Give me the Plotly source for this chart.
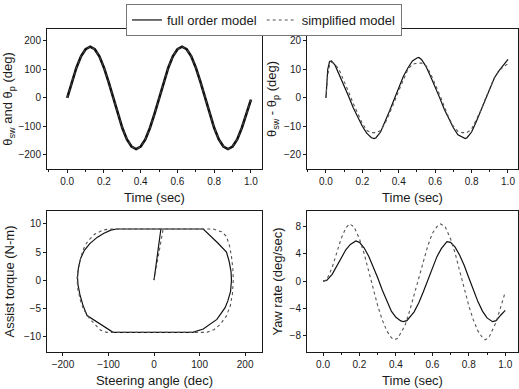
import plotly.graph_objects as go

# ---------------- data ----------------
t = [0.0, 0.025, 0.05, 0.075, 0.1, 0.125, 0.15, 0.175, 0.2, 0.225, 0.25,
     0.275, 0.3, 0.325, 0.35, 0.375, 0.4, 0.425, 0.45, 0.475, 0.5,
     0.525, 0.55, 0.575, 0.6, 0.625, 0.65, 0.675, 0.7, 0.725, 0.75,
     0.775, 0.8, 0.825, 0.85, 0.875, 0.9, 0.925, 0.95, 0.975, 1.0]

# panel 1: steering angles (deg)
theta_angle = [0, 56, 106, 146, 171, 180, 171, 146, 106, 56, 0,
               -56, -106, -146, -171, -180, -171, -146, -106, -56, 0,
               56, 106, 146, 171, 180, 171, 146, 106, 56, 0,
               -56, -106, -146, -171, -180, -171, -146, -106, -56, -6]

# panel 2: angle difference (deg)
t_diff = [0.0, 0.005, 0.01, 0.02, 0.03, 0.05, 0.075, 0.1, 0.125, 0.15, 0.175, 0.2,
          0.225, 0.25, 0.265, 0.275, 0.3, 0.325, 0.35, 0.375, 0.4, 0.425, 0.45,
          0.475, 0.5, 0.51, 0.525, 0.55, 0.575, 0.6, 0.625, 0.65, 0.675, 0.7,
          0.725, 0.75, 0.765, 0.775, 0.8, 0.825, 0.85, 0.875, 0.9, 0.925, 0.95,
          0.975, 1.0]
diff_full = [0, 6, 10, 12.8, 13, 11.5, 8, 4, 0.5, -3.5, -7, -10,
             -12.5, -14, -14.3, -14, -12, -8.5, -4.5, -0.5, 3.5, 7.5, 10.5,
             13, 14, 14.2, 13.5, 11, 7.5, 4, 0, -4, -7.5, -10.5,
             -13, -14, -14.3, -14, -12, -8.5, -4.5, -0.5, 3.5, 7, 9.5,
             11.5, 13.5]
t_diff_s = [0.0, 0.01, 0.02, 0.03, 0.04, 0.06, 0.075, 0.1, 0.125, 0.15, 0.175, 0.2,
            0.225, 0.25, 0.275, 0.3, 0.325, 0.35, 0.375, 0.4, 0.425, 0.45, 0.475,
            0.5, 0.525, 0.55, 0.575, 0.6, 0.625, 0.65, 0.675, 0.7, 0.725, 0.75,
            0.775, 0.8, 0.825, 0.85, 0.875, 0.9, 0.925, 0.95, 0.975, 1.0]
diff_simp = [0, 8, 11.5, 12.5, 12.3, 11, 9.5, 6, 2, -2, -5.5, -9,
             -11.5, -12.2, -12.2, -11.5, -9, -5.5, -1.5, 2.5, 6.5, 10, 11.8,
             12.2, 12.2, 11.3, 8.5, 5, 1, -3, -7, -10, -11.8, -12.2,
             -12.2, -11, -8, -4.5, -0.5, 3.5, 7, 9.5, 11, 12]

# panel 3: assist torque vs steering angle
angle_full = [0, 15, 108, 125, 140, 159, 165, 169, 170, 168, 162, 156, 138, 108, 85,
              -90, -110, -130, -147, -156, -163, -167, -168, -166, -161, -153, -141,
              -125, -111, -95, -82, 15]
torque_full = [0, 9.1, 9.1, 7.8, 6.6, 5.0, 3.3, 1.5, 0, -2.0, -3.7, -4.9, -7.0, -8.7, -9.3,
               -9.3, -8.3, -7.2, -6.3, -4.5, -2.5, -0.8, 0.5, 2.2, 3.9, 5.3, 6.5,
               7.6, 8.3, 8.9, 9.1, 9.1]
angle_simp = [0, 20, 130, 148, 159, 166, 170, 173, 174, 172, 167, 158, 145, 132, 116,
              -104, -118, -126, -142, -155, -162, -167, -169, -168, -165, -160, -154,
              -148, -140, -130, -112, -97, 20]
torque_simp = [0, 9.1, 9.1, 8.6, 7.8, 6.0, 4.2, 2.0, 0, -2.5, -4.7, -6.5, -7.9, -8.8, -9.3,
               -9.3, -8.9, -8.2, -6.8, -5.2, -3.5, -1.7, 0, 1.3, 2.6, 4.3, 5.7,
               6.6, 7.4, 8.2, 8.9, 9.1, 9.1]

# panel 4: yaw rate (deg/sec)
t_yaw = [0.0, 0.02, 0.05, 0.075, 0.1, 0.125, 0.15, 0.18, 0.2, 0.225, 0.25, 0.275,
         0.3, 0.325, 0.35, 0.375, 0.4, 0.425, 0.44, 0.46, 0.5, 0.525, 0.55, 0.575,
         0.6, 0.625, 0.65, 0.68, 0.7, 0.725, 0.75, 0.775, 0.8, 0.825, 0.85, 0.875,
         0.9, 0.93, 0.95, 0.975, 1.0]
yaw_full = [0, 0.1, 1.0, 2.2, 3.5, 4.6, 5.4, 5.9, 5.7, 4.9, 3.7, 2.2,
            0.5, -1.3, -3.0, -4.4, -5.3, -5.8, -5.95, -5.8, -4.5, -3.2, -1.6, 0.2,
            2.0, 3.6, 4.8, 5.8, 5.7, 5.0, 3.8, 2.3, 0.5, -1.3, -3.0, -4.4,
            -5.4, -5.95, -5.8, -5.0, -4.3]
t_yaw_s = [0.0, 0.02, 0.05, 0.075, 0.1, 0.125, 0.145, 0.17, 0.2, 0.225, 0.25, 0.275,
           0.3, 0.325, 0.35, 0.375, 0.39, 0.41, 0.45, 0.475, 0.5, 0.525, 0.55, 0.575,
           0.6, 0.625, 0.645, 0.67, 0.7, 0.725, 0.75, 0.775, 0.8, 0.825, 0.85, 0.875,
           0.89, 0.91, 0.95, 0.975, 1.0]
yaw_simp = [0, 0.2, 2.0, 4.3, 6.3, 7.8, 8.4, 8.0, 6.2, 4.1, 1.5, -1.1,
            -3.6, -5.7, -7.3, -8.3, -8.6, -8.4, -6.5, -4.4, -2.0, 0.6, 3.0, 5.2,
            7.0, 8.0, 8.4, 8.0, 6.2, 4.1, 1.5, -1.1, -3.6, -5.7, -7.3, -8.3,
            -8.6, -8.3, -6.0, -3.8, -1.6]

time_ticks = [0.0, 0.2, 0.4, 0.6, 0.8, 1.0]
time_labels = ["0.0", "0.2", "0.4", "0.6", "0.8", "1.0"]

# ---------------- figure ----------------
FONT = "Liberation Sans, Arial, sans-serif"
INK = "#1a1a1a"
SOLID = dict(color="#111111", width=1.2, dash="solid")
DOT = dict(color="#555555", width=1.1, dash="dot")

fig = go.Figure()

fig.add_trace(go.Scatter(x=t, y=theta_angle, mode="lines", line=dict(color="#111111", width=2.6),
                         showlegend=False, xaxis="x", yaxis="y"))
fig.add_trace(go.Scatter(x=t, y=theta_angle, mode="lines", line=dict(color="#444444", width=1.1, dash="dot"),
                         showlegend=False, xaxis="x", yaxis="y"))

fig.add_trace(go.Scatter(x=t_diff, y=diff_full, mode="lines", line=SOLID, name="full order model",
                         xaxis="x2", yaxis="y2"))
fig.add_trace(go.Scatter(x=t_diff_s, y=diff_simp, mode="lines", line=DOT, name="simplified model",
                         xaxis="x2", yaxis="y2"))

fig.add_trace(go.Scatter(x=angle_full, y=torque_full, mode="lines", line=SOLID, showlegend=False,
                         xaxis="x3", yaxis="y3"))
fig.add_trace(go.Scatter(x=angle_simp, y=torque_simp, mode="lines", line=DOT, showlegend=False,
                         xaxis="x3", yaxis="y3"))

fig.add_trace(go.Scatter(x=t_yaw, y=yaw_full, mode="lines", line=SOLID, showlegend=False,
                         xaxis="x4", yaxis="y4"))
fig.add_trace(go.Scatter(x=t_yaw_s, y=yaw_simp, mode="lines", line=DOT, showlegend=False,
                         xaxis="x4", yaxis="y4"))

W, H = 519, 389
def xd(a, b):
    return [a / W, b / W]
def yd(top, bot):
    return [1 - bot / H, 1 - top / H]

common = dict(showline=True, linecolor=INK, linewidth=1, mirror=True, ticks="outside",
              ticklen=3, tickcolor=INK, showgrid=False, zeroline=False,
              tickfont=dict(family=FONT, size=10, color=INK))
tfont = dict(family=FONT, size=13, color=INK)

def time_axis(dom, anchor, rng):
    return dict(common, domain=dom, anchor=anchor, range=rng, tickvals=time_ticks,
                ticktext=time_labels, minor=dict(ticks="outside", ticklen=2, dtick=0.1, tickcolor=INK),
                title=dict(text="Time (sec)", font=tfont, standoff=6))

fig.update_layout(
    width=W, height=H, margin=dict(l=0, r=0, t=0, b=0),
    paper_bgcolor="white", plot_bgcolor="white",
    font=dict(family=FONT, color=INK),
    xaxis=time_axis(xd(47, 262), "y", [-0.11, 1.06]),
    yaxis=dict(common, domain=yd(29, 169), anchor="x", range=[-250, 242],
               tickvals=[-200, -100, 0, 100, 200],
               title=dict(text="θ<sub>sw</sub> and θ<sub>p</sub> (deg)", font=tfont, standoff=6)),
    xaxis2=time_axis(xd(307, 518), "y2", [-0.104, 1.055]),
    yaxis2=dict(common, domain=yd(29, 169), anchor="x2", range=[-25, 24.2],
                tickvals=[-20, -10, 0, 10, 20],
                title=dict(text="θ<sub>sw</sub> - θ<sub>p</sub> (deg)", font=tfont, standoff=4)),
    xaxis3=dict(common, domain=xd(47, 262), anchor="y3", range=[-235, 237],
                tickvals=[-200, -100, 0, 100, 200],
                title=dict(text="Steering angle (dec)", font=tfont, standoff=6)),
    yaxis3=dict(common, domain=yd(211, 352), anchor="x3", range=[-12.8, 12.3],
                tickvals=[-10, -5, 0, 5, 10],
                title=dict(text="Assist torque (N-m)", font=tfont, standoff=6)),
    xaxis4=time_axis(xd(307, 518), "y4", [-0.088, 1.07]),
    yaxis4=dict(common, domain=yd(211, 352), anchor="x4", range=[-10.4, 10.3],
                tickvals=[-8, -4, 0, 4, 8],
                title=dict(text="Yaw rate (deg/sec)", font=tfont, standoff=4)),
    legend=dict(orientation="h", x=126 / W, y=1 - 4 / H, xanchor="left", yanchor="top",
                bgcolor="white", bordercolor="#777777", borderwidth=1,
                font=dict(family=FONT, size=13, color=INK), itemwidth=30,
                tracegroupgap=0),
    showlegend=True,
)

fig.write_html("out.html")
